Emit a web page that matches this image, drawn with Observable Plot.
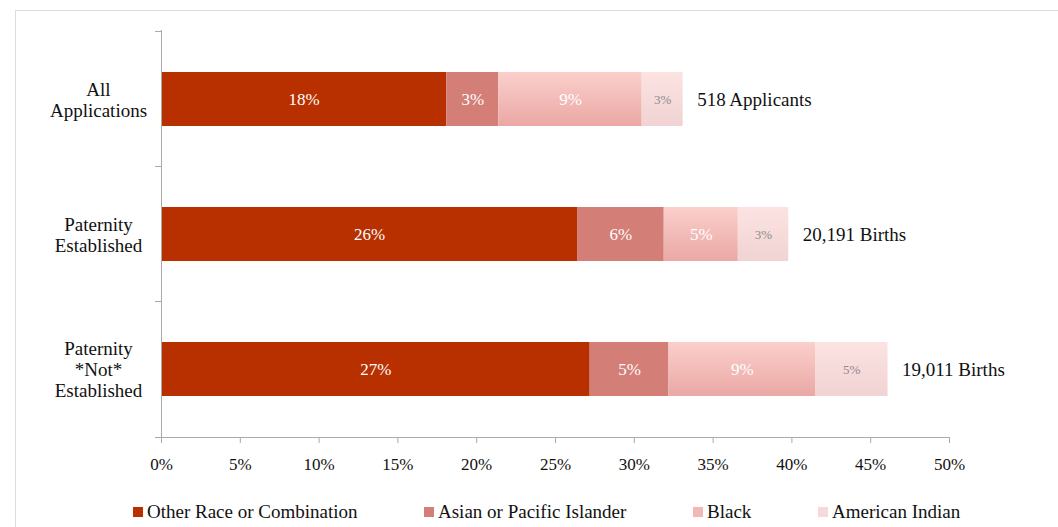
<!DOCTYPE html>
<html>
<head>
<meta charset="utf-8">
<script src="https://cdn.jsdelivr.net/npm/d3@7"></script>
<script src="https://cdn.jsdelivr.net/npm/@observablehq/plot@0.6"></script>
<style>
  html, body { margin: 0; padding: 0; background: #fff; width: 1058px; height: 527px; overflow: hidden; }
  body { position: relative; font-family: "Liberation Serif", "Noto Serif", serif; }
  #frame { position: absolute; left: 15px; top: 10px; width: 1100px; height: 600px; border: 1px solid #dcdcdc; }
  #chart { position: absolute; left: 0; top: 0; }
  #legend { position: absolute; left: 0; top: 490px; width: 1058px; height: 37px; font-size: 19px; color: #111; }
  .item { position: absolute; top: 11px; display: flex; align-items: center; white-space: nowrap; }
  .sw { width: 10px; height: 10px; margin-right: 4px; }
</style>
</head>
<body>
<div id="frame"></div>
<div id="chart"></div>
<div id="legend"></div>
<script>
const categories = ["All\nApplications", "Paternity\nEstablished", "Paternity\n*Not*\nEstablished"];
const races = ["Other Race or Combination", "Asian or Pacific Islander", "Black", "American Indian"];
const otherRace = [18.1, 26.4, 27.2];
const asianPI   = [3.3, 5.5, 5.0];
const black     = [9.1, 4.7, 9.3];
const amIndian  = [2.6, 3.2, 4.6];
const annotations = ["518 Applicants", "20,191 Births", "19,011 Births"];
const xTicks = [0, 5, 10, 15, 20, 25, 30, 35, 40, 45, 50];

const series = [otherRace, asianPI, black, amIndian];
const rows = [];
categories.forEach((c, i) => races.forEach((r, j) => rows.push({cat: c, race: r, value: series[j][i]})));
const totals = categories.map((c, i) => ({cat: c, total: series.reduce((s, a) => s + a[i], 0), label: annotations[i]}));

const swatch = ["#B83000", "#D47E78", "#F2B8B4", "#F4DBDA"];
const fills = ["#B83000", "#D47E78", "url(#gBlack)", "url(#gAI)"];
const font = "'Liberation Serif', 'Noto Serif', serif";

const plot = Plot.plot({
  width: 1058,
  height: 490,
  marginLeft: 161,
  marginRight: 109,
  marginTop: 30,
  marginBottom: 53,
  style: {fontFamily: font, fontSize: "17px", color: "#111", background: "transparent"},
  x: {domain: [0, 50]},
  y: {domain: categories, paddingInner: 0.6, paddingOuter: 0.3},
  color: {domain: races, range: fills},
  marks: [
    Plot.barX(rows, Plot.stackX({x: "value", y: "cat", fill: "race", order: races})),
    Plot.text(rows.filter(d => d.race !== races[3]), Plot.stackX({
      x: "value", y: "cat", z: "race", order: races.slice(0, 3),
      text: d => Math.round(d.value) + "%", fill: "white", fontSize: 17
    })),
    Plot.text(rows, Plot.stackX({
      x: "value", y: "cat", z: "race", order: races,
      text: d => d.race === races[3] ? Math.round(d.value) + "%" : "", fill: "#8a8a8a", fontSize: 13
    })),
    Plot.text(totals, {x: "total", y: "cat", text: "label", textAnchor: "start", dx: 14, fill: "#111", fontSize: 19}),
    Plot.text(categories, {y: d => d, text: d => d, frameAnchor: "left", dx: -63, textAnchor: "middle", lineHeight: 1.1, fill: "#111", fontSize: 19}),
    Plot.frame({anchor: "left", stroke: "#aaa"}),
    Plot.frame({anchor: "bottom", stroke: "#aaa"}),
    Plot.axisY({ticks: categories, tickSize: 6, tickFormat: () => "", dy: -68, stroke: "#aaa", label: null}),
    Plot.axisY({ticks: [categories[2]], tickSize: 6, tickFormat: () => "", dy: 68, stroke: "#aaa", label: null}),
    Plot.axisX({ticks: xTicks, tickSize: 6, tickPadding: 14, tickFormat: d => d + "%", stroke: "#aaa", fill: "#111", fontSize: 17, label: null})
  ]
});

const defs = document.createElementNS("http://www.w3.org/2000/svg", "defs");
defs.innerHTML = `
  <linearGradient id="gBlack" x1="0" y1="0" x2="0" y2="1">
    <stop offset="0" stop-color="#FBCFCC"/><stop offset="1" stop-color="#EAA8A4"/>
  </linearGradient>
  <linearGradient id="gAI" x1="0" y1="0" x2="0" y2="1">
    <stop offset="0" stop-color="#FCE3E2"/><stop offset="1" stop-color="#F0D3D2"/>
  </linearGradient>`;
plot.insertBefore(defs, plot.firstChild);
document.getElementById("chart").appendChild(plot);

const legendLefts = [133, 424, 693, 818];
const legend = document.getElementById("legend");
races.forEach((r, i) => {
  const it = document.createElement("div");
  it.className = "item";
  it.style.left = legendLefts[i] + "px";
  it.innerHTML = `<span class="sw" style="background:${swatch[i]}"></span><span>${r}</span>`;
  legend.appendChild(it);
});
</script>
</body>
</html>
